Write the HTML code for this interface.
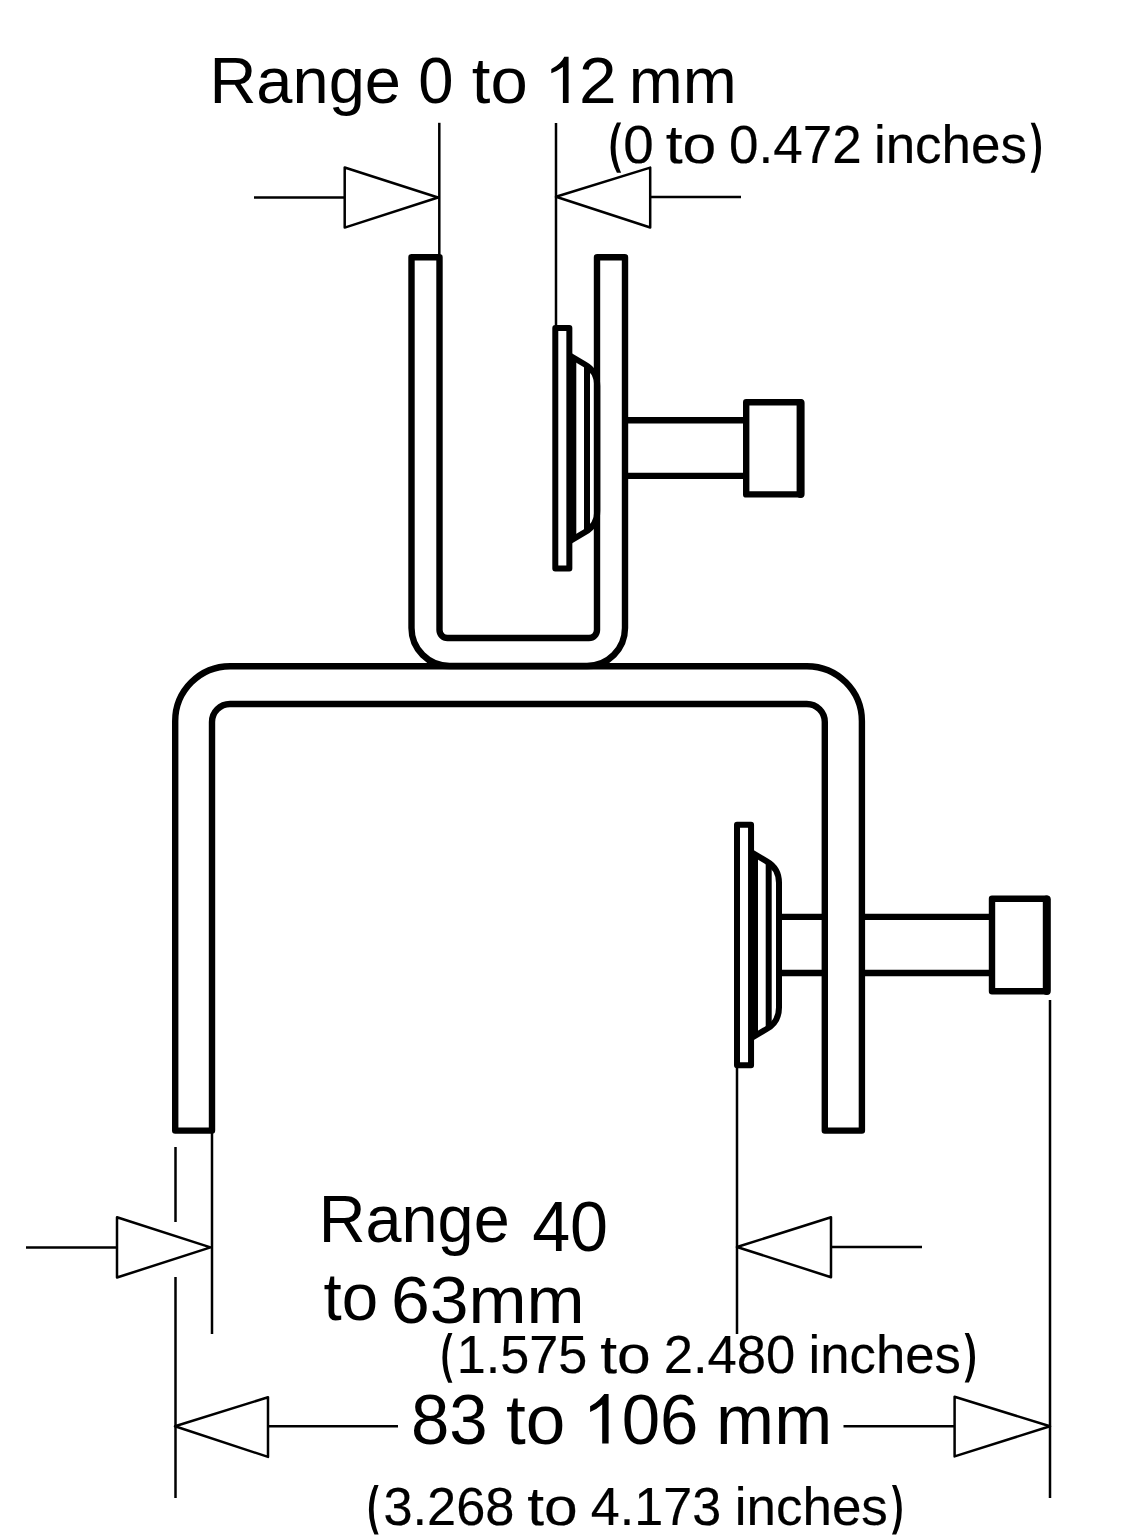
<!DOCTYPE html>
<html><head><meta charset="utf-8">
<style>
html,body{margin:0;padding:0;background:#fff;width:1134px;height:1536px;overflow:hidden}
svg{display:block}
text{font-family:"Liberation Sans",sans-serif;fill:#000}
.c{stroke:#000;stroke-width:0.35}
</style></head>
<body>
<svg width="1134" height="1536" viewBox="0 0 1134 1536">
<rect width="1134" height="1536" fill="#fff"/>
<!-- thin dimension lines -->
<g stroke="#000" stroke-width="2.5" fill="none">
  <line x1="439.3" y1="122.8" x2="439.3" y2="256"/>
  <line x1="556" y1="123" x2="556" y2="327"/>
  <line x1="254" y1="197.5" x2="345" y2="197.5"/>
  <line x1="650" y1="197" x2="741" y2="197"/>
  <line x1="175.5" y1="1147" x2="175.5" y2="1222"/>
  <line x1="175.5" y1="1277" x2="175.5" y2="1498"/>
  <line x1="212" y1="1131" x2="212" y2="1334"/>
  <line x1="737" y1="1066" x2="737" y2="1334"/>
  <line x1="1050" y1="1000" x2="1050" y2="1498"/>
  <line x1="26" y1="1247.5" x2="117" y2="1247.5"/>
  <line x1="831" y1="1247" x2="922" y2="1247"/>
  <line x1="268" y1="1426.3" x2="398" y2="1426.3"/>
  <line x1="843.5" y1="1426.3" x2="954.6" y2="1426.3"/>
</g>
<g stroke="#000" stroke-width="2.5" fill="#fff" stroke-linejoin="round">
  <polygon points="344.7,167.5 344.7,227.6 438,197.5"/>
  <polygon points="556,196.8 650.2,167.6 650.2,227.5"/>
  <polygon points="117,1217.3 117,1277.5 210.5,1247.4"/>
  <polygon points="737,1247 831,1217.2 831,1277.2"/>
  <polygon points="175,1426.3 268,1397.2 268,1456.9"/>
  <polygon points="954.6,1396.7 954.6,1456.4 1050,1426.3"/>
</g>
<!-- brackets -->
<g stroke="#000" stroke-width="6.4" fill="none" stroke-linejoin="round">
  <!-- small U bracket -->
  <path d="M439.5 257.3 V630 A8 8 0 0 0 447.5 638 H589 A8 8 0 0 0 597 630 V257.3 H625 V628 A38 38 0 0 1 587 666 H449.5 A38 38 0 0 1 411.5 628 V257.3 Z"/>
  <!-- big bracket -->
  <path d="M212 1130.6 V722 A18 18 0 0 1 230 704 H806.8 A18 18 0 0 1 824.8 722 V1130.6 H861.9 V721.2 A55 55 0 0 0 806.9 666.2 H230.2 A55 55 0 0 0 175.2 721.2 V1130.6 Z"/>
  <!-- upper washer -->
  <g id="wsh" stroke-width="6">
  <rect x="555.3" y="328" width="14.05" height="240.4"/>
  <line x1="573.3" y1="357" x2="573.3" y2="540"/>
  <path d="M569 355 L585 364.5 Q597.3 371.5 597.3 386 V510.7 Q597.3 525.2 585 532.2 L569 541.7"/>
  <path d="M587 365 V531.5"/>
  </g>
  <!-- upper bolt -->
  <line x1="628" y1="420.3" x2="746" y2="420.3"/>
  <line x1="628" y1="475.9" x2="746" y2="475.9"/>
  <rect x="746.2" y="402.2" width="54" height="92.2"/>
  <line x1="800.6" y1="403" x2="800.6" y2="494" stroke-width="8" stroke-linecap="round"/>
  <!-- lower washer -->
  <use href="#wsh" transform="translate(181.7 496.8)"/>
  <!-- lower bolt -->
  <line x1="781" y1="916.9" x2="824" y2="916.9"/>
  <line x1="781" y1="973" x2="824" y2="973"/>
  <line x1="862" y1="916.9" x2="992" y2="916.9"/>
  <line x1="862" y1="973" x2="992" y2="973"/>
  <rect x="992" y="898.7" width="54.7" height="92.6"/>
  <line x1="1046.8" y1="899.5" x2="1046.8" y2="991" stroke-width="8" stroke-linecap="round"/>
</g>
<!-- text -->
<text transform="matrix(0.6500 0 0 0.6550 209.40 103.00)" font-size="100">Range</text>
<text transform="matrix(0.6333 0 0 0.6550 418.37 103.00)" font-size="100">0</text>
<text transform="matrix(0.6701 0 0 0.6550 471.86 103.00)" font-size="100">to</text>
<text transform="matrix(0.6761 0 0 0.6550 578.92 103.00)" font-size="100">2</text>
<text transform="matrix(0.6484 0 0 0.6550 628.76 103.00)" font-size="100">mm</text>
<text class="c" transform="matrix(0.5479 0 0 0.5400 623.21 163.00)" font-size="100">0</text>
<text class="c" transform="matrix(0.6065 0 0 0.5400 665.69 163.00)" font-size="100">to</text>
<text class="c" transform="matrix(0.5303 0 0 0.5400 729.08 163.00)" font-size="100">0.472</text>
<text class="c" transform="matrix(0.5299 0 0 0.5400 873.89 163.00)" font-size="100">inches</text>
<text transform="matrix(0.6482 0 0 0.6580 318.71 1242.00)" font-size="100">Range</text>
<text transform="matrix(0.6829 0 0 0.7000 532.13 1251.30)" font-size="100">40</text>
<text transform="matrix(0.6545 0 0 0.6600 323.49 1320.10)" font-size="100">to</text>
<text transform="matrix(0.6970 0 0 0.6680 390.92 1322.70)" font-size="100">63mm</text>
<text class="c" transform="matrix(0.5223 0 0 0.5300 456.72 1373.00)" font-size="100">1.575</text>
<text class="c" transform="matrix(0.6052 0 0 0.5300 600.19 1373.00)" font-size="100">to</text>
<text class="c" transform="matrix(0.5257 0 0 0.5300 663.77 1373.00)" font-size="100">2.480</text>
<text class="c" transform="matrix(0.5273 0 0 0.5300 808.51 1373.00)" font-size="100">inches</text>
<text transform="matrix(0.6893 0 0 0.7100 411.04 1443.80)" font-size="100">83</text>
<text transform="matrix(0.7117 0 0 0.7100 506.08 1443.80)" font-size="100">to</text>
<text transform="matrix(0.6903 0 0 0.7100 621.64 1443.80)" font-size="100">06</text>
<text transform="matrix(0.6967 0 0 0.7100 716.12 1443.80)" font-size="100">mm</text>
<text class="c" transform="matrix(0.5236 0 0 0.5300 383.41 1524.80)" font-size="100">3.268</text>
<text class="c" transform="matrix(0.6052 0 0 0.5300 527.19 1524.80)" font-size="100">to</text>
<text class="c" transform="matrix(0.5213 0 0 0.5300 590.86 1524.80)" font-size="100">4.173</text>
<text class="c" transform="matrix(0.5295 0 0 0.5300 734.79 1524.80)" font-size="100">inches</text>
<path d="M568.6 102.9 H562.9 V67 Q557.5 71 551.3 73.3 V69 Q556 66.8 559.5 63.3 Q562.8 60 564.3 56.7 H568.6 Z"/>
<path d="M608.6 1443.6 H602.2 V1404.5 Q596.5 1409.5 590.1 1412 V1406.2 Q595.5 1403.5 599.2 1399.7 Q602.6 1396.2 604.3 1394 H608.6 Z"/>
<path d="M616.9 122.4 A53.35 53.35 0 0 0 616.9 172.7 L621.1 172.7 A59.28 59.28 0 0 1 621.1 122.4 Z"/>
<path d="M1034.9 122.7 A54.28 54.28 0 0 1 1034.9 172.7 L1030.7 172.7 A60.57 60.57 0 0 0 1030.7 122.7 Z"/>
<path d="M448.2 1332.9 A56.35 56.35 0 0 0 448.2 1382.7 L452.4 1382.7 A63.34 63.34 0 0 1 452.4 1332.9 Z"/>
<path d="M968.9 1332.9 A53.26 53.26 0 0 1 968.9 1382.4 L964.7 1382.4 A59.42 59.42 0 0 0 964.7 1332.9 Z"/>
<path d="M374.4 1484.9 A58.44 58.44 0 0 0 374.4 1534.4 L378.6 1534.4 A66.21 66.21 0 0 1 378.6 1484.9 Z"/>
<path d="M896.2 1484.9 A57.94 57.94 0 0 1 896.2 1534.6 L892.0 1534.6 A65.46 65.46 0 0 0 892.0 1484.9 Z"/>
</svg>
</body></html>
